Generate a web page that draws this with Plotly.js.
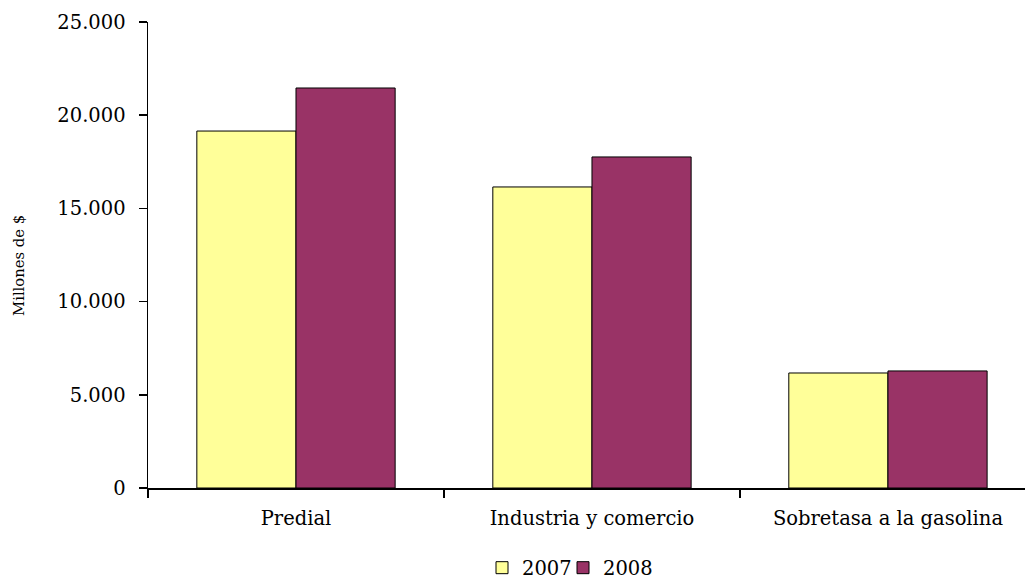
<!DOCTYPE html>
<html>
<head>
<meta charset="utf-8">
<script src="https://cdn.plot.ly/plotly-3.0.1.min.js"></script>
<style>body{margin:0;padding:0;background:#fff;}#chart{width:1025px;height:579px;}</style>
</head>
<body>
<div id="chart"></div>
<script>
const categories = ["Predial", "Industria y comercio", "Sobretasa a la gasolina"];
const values2007 = [19150, 16150, 6170];
const values2008 = [21460, 17760, 6280];
const seriesNames = ["2007", "2008"];
const yTicks = [0, 5000, 10000, 15000, 20000, 25000];
const yTitle = "Millones de $";

const serif = "DejaVu Serif, serif";
const traces = [
  {type: "bar", name: seriesNames[0], x: categories, y: values2007, legend: "legend",
   marker: {color: "#FFFF99", line: {color: "#000", width: 1}}},
  {type: "bar", name: seriesNames[1], x: categories, y: values2008, legend: "legend2",
   marker: {color: "#993366", line: {color: "#000", width: 1}}}
];
const legendBase = {orientation: "h", xref: "container", yref: "container", xanchor: "left", y: 0.019, yanchor: "middle",
                    font: {family: serif, size: 19.5, color: "#000"}, itemwidth: 30, bgcolor: "rgba(0,0,0,0)"};
const layout = {
  width: 1025, height: 579,
  margin: {l: 148, r: 0, t: 22, b: 91},
  paper_bgcolor: "#fff", plot_bgcolor: "#fff",
  separators: ",.",
  barmode: "group", bargap: 0.33, bargroupgap: 0,
  showlegend: true,
  legend: Object.assign({}, legendBase, {x: 482 / 1025}),
  legend2: Object.assign({}, legendBase, {x: 563 / 1025}),
  xaxis: {type: "category", range: [-0.5, 2.463], showline: true, linecolor: "#000", linewidth: 1.5,
          ticks: "outside", tickson: "boundaries", ticklen: 8, tickcolor: "#000", tickwidth: 1.5,
          ticklabelstandoff: 12, tickfont: {family: serif, size: 19.5, color: "#000"}, showgrid: false, zeroline: false, fixedrange: true},
  yaxis: {range: [0, 25000], tickvals: yTicks, tickformat: ",d", showline: true, linecolor: "#000", linewidth: 1.5,
          ticks: "outside", ticklen: 8, tickcolor: "#000", tickwidth: 1.5, ticklabelstandoff: 9,
          tickfont: {family: serif, size: 19.5, color: "#000"}, showgrid: false, zeroline: false},
  annotations: [{text: yTitle, xref: "paper", yref: "paper", x: (18 - 148) / 877, y: (488 - 266) / 466,
                 xanchor: "center", yanchor: "middle", textangle: -90, showarrow: false,
                 font: {family: serif, size: 14.8, color: "#000"}}]
};
Plotly.newPlot("chart", traces, layout, {displayModeBar: false, staticPlot: true});
</script>
</body>
</html>
